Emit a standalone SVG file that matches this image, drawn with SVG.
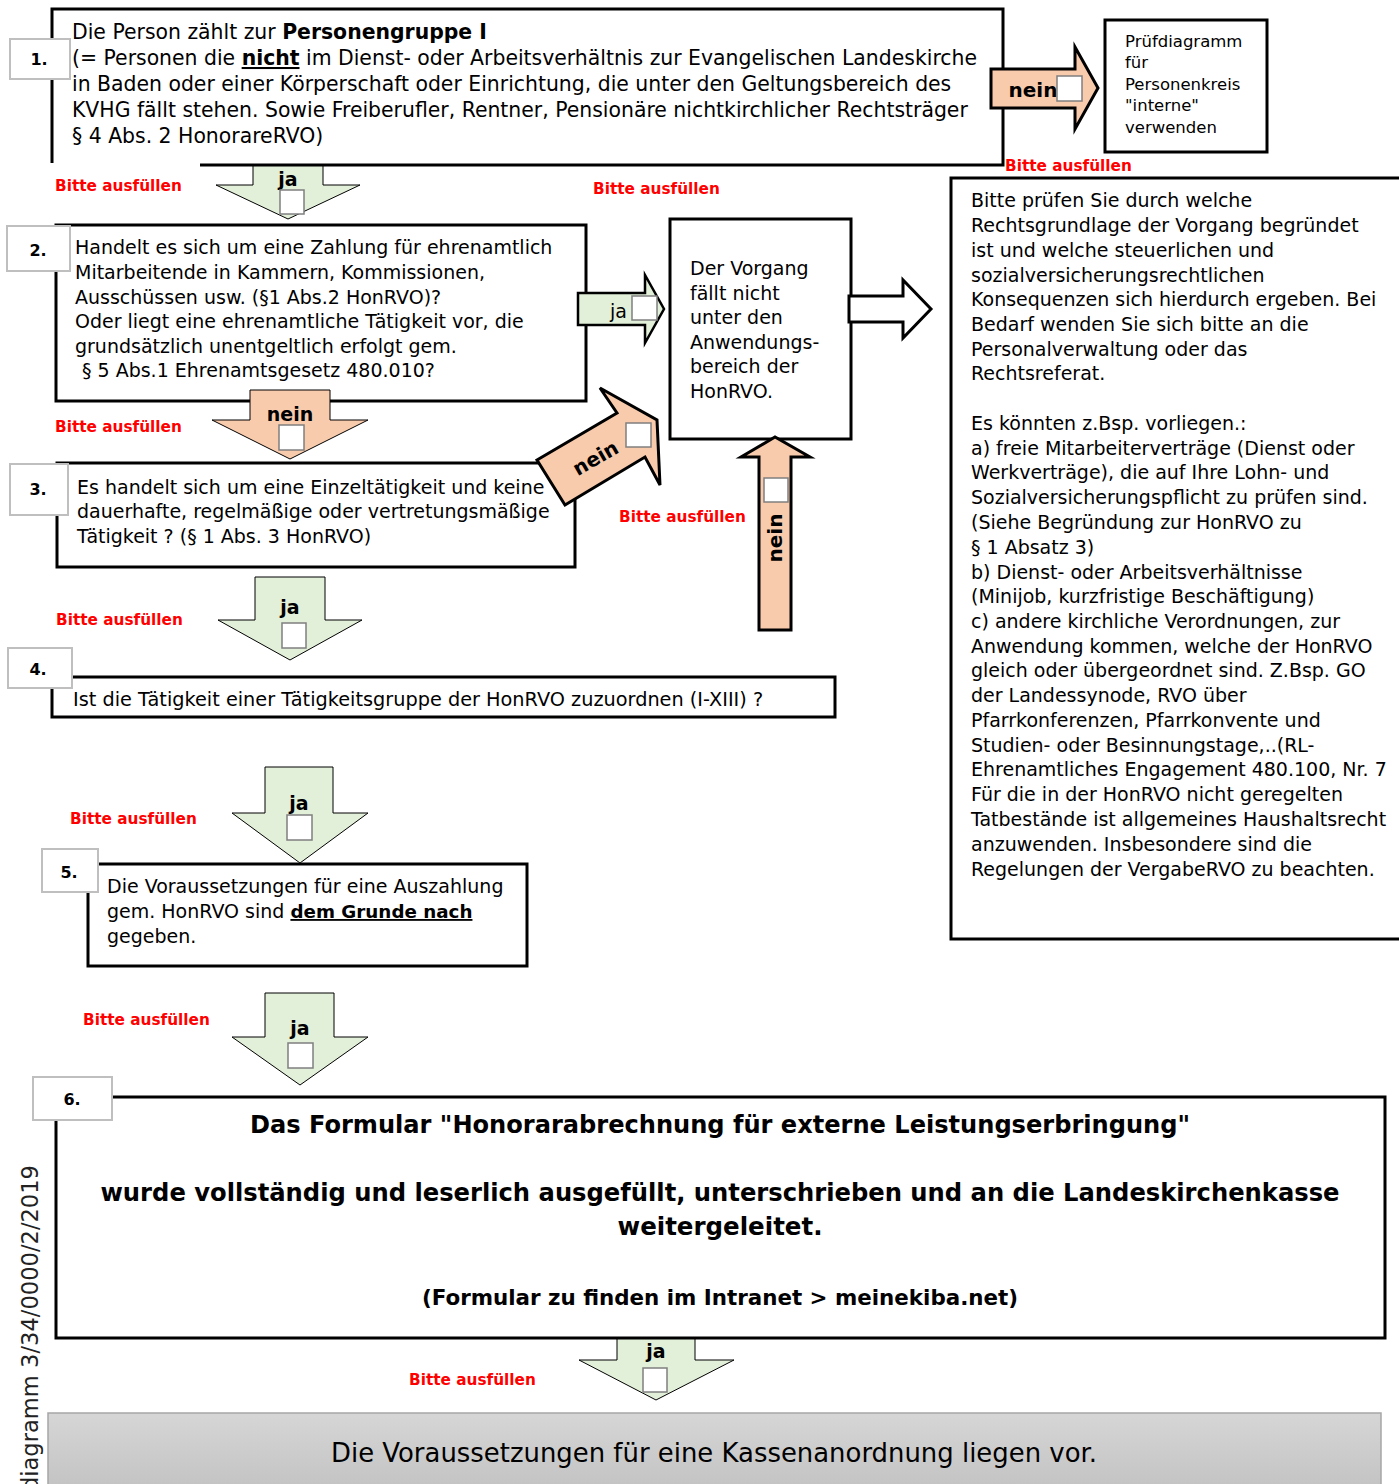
<svg xmlns="http://www.w3.org/2000/svg" width="1399" height="1484" viewBox="0 0 1399 1484">
<defs>
<linearGradient id="gray" x1="0" y1="0" x2="0" y2="1">
<stop offset="0" stop-color="#d6d6d6"/>
<stop offset="1" stop-color="#c2c2c2"/>
</linearGradient>
<style>
.t{font-family:"DejaVu Sans","Liberation Sans",sans-serif;font-size:19px;fill:#000}
.b{font-weight:bold}
.box{fill:#fff;stroke:#000;stroke-width:3}
.lbl{fill:#fff;stroke:#bfbfbf;stroke-width:2}
.ln{font-family:"DejaVu Sans","Liberation Sans",sans-serif;font-size:16px;font-weight:bold;text-anchor:middle}
.red{font-family:"DejaVu Sans","Liberation Sans",sans-serif;font-size:15.3px;font-weight:bold;fill:#ff0000}
.green{fill:#e2efd9;stroke:#000;stroke-width:1}
.peach{fill:#f8cbad;stroke:#000;stroke-width:3}
.peachthin{fill:#f8cbad;stroke:#000;stroke-width:1}
.cb{fill:#fff;stroke:#7f7f7f;stroke-width:1.5}
.al{font-family:"DejaVu Sans","Liberation Sans",sans-serif;font-size:19px;font-weight:bold;text-anchor:middle}
.big{font-family:"DejaVu Sans","Liberation Sans",sans-serif;font-size:24px;font-weight:bold;text-anchor:middle}
</style>
</defs>
<rect width="1399" height="1484" fill="#fff"/>

<!-- side text -->
<text class="t" style="font-size:22.6px;fill:#222" transform="translate(38,1165) rotate(-90)" text-anchor="end">Prüfdiagramm 3/34/0000/2/2019</text>

<g id="node1">
<path d="M52,163 V9 H1003 V165 H200" fill="#fff" stroke="#000" stroke-width="3"/>
<g class="t" style="font-size:20.4px">
<text x="72" y="39">Die Person zählt zur <tspan class="b">Personengruppe I</tspan></text>
<text x="72" y="65">(= Personen die <tspan class="b" text-decoration="underline">nicht</tspan> im Dienst- oder Arbeitsverhältnis zur Evangelischen Landeskirche</text>
<text x="72" y="91">in Baden oder einer Körperschaft oder Einrichtung, die unter den Geltungsbereich des</text>
<text x="72" y="117">KVHG fällt stehen. Sowie Freiberufler, Rentner, Pensionäre nichtkirchlicher Rechtsträger</text>
<text x="72" y="143">§ 4 Abs. 2 HonorareRVO)</text>
</g>
<rect class="lbl" x="10" y="39" width="60" height="40"/>
<text class="ln" x="39" y="65">1.</text>
</g>

<g id="node-interne">
<rect class="box" x="1105" y="20" width="162" height="132"/>
<g class="t" style="font-size:16.5px">
<text x="1125" y="47">Prüfdiagramm</text>
<text x="1125" y="68">für</text>
<text x="1125" y="90">Personenkreis</text>
<text x="1125" y="111">"interne"</text>
<text x="1125" y="133">verwenden</text>
</g>
</g>

<g id="node-hinweis">
<path d="M1399,178 H951 V939 H1399" fill="#fff" stroke="#000" stroke-width="3"/>
<g class="t" xml:space="preserve">
<text x="971" y="207">Bitte prüfen Sie durch welche</text>
<text x="971" y="232">Rechtsgrundlage der Vorgang  begründet</text>
<text x="971" y="257">ist und welche steuerlichen und</text>
<text x="971" y="282">sozialversicherungsrechtlichen</text>
<text x="971" y="306">Konsequenzen sich hierdurch ergeben. Bei</text>
<text x="971" y="331">Bedarf wenden Sie sich bitte an die</text>
<text x="971" y="356">Personalverwaltung oder das</text>
<text x="971" y="380">Rechtsreferat.</text>
<text x="971" y="430">Es könnten z.Bsp. vorliegen.:</text>
<text x="971" y="455">a) freie Mitarbeiterverträge (Dienst oder</text>
<text x="971" y="479">Werkverträge), die auf Ihre Lohn- und</text>
<text x="971" y="504">Sozialversicherungspflicht zu prüfen sind.</text>
<text x="971" y="529">(Siehe Begründung zur HonRVO zu</text>
<text x="971" y="554">§ 1 Absatz 3)</text>
<text x="971" y="579">b) Dienst- oder Arbeitsverhältnisse</text>
<text x="971" y="603">(Minijob, kurzfristige Beschäftigung)</text>
<text x="971" y="628">c) andere kirchliche Verordnungen, zur</text>
<text x="971" y="653">Anwendung kommen, welche der HonRVO</text>
<text x="971" y="677">gleich oder übergeordnet sind. Z.Bsp. GO</text>
<text x="971" y="702">der Landessynode, RVO über</text>
<text x="971" y="727">Pfarrkonferenzen, Pfarrkonvente und</text>
<text x="971" y="752">Studien- oder Besinnungstage,..(RL-</text>
<text x="971" y="776">Ehrenamtliches Engagement 480.100, Nr. 7</text>
<text x="971" y="801">Für die in der HonRVO nicht geregelten</text>
<text x="971" y="826">Tatbestände ist allgemeines Haushaltsrecht</text>
<text x="971" y="851">anzuwenden. Insbesondere sind die</text>
<text x="971" y="876">Regelungen der VergabeRVO zu beachten.</text>
</g>
</g>

<g id="node2">
<rect class="box" x="56" y="225" width="530" height="176"/>
<g class="t" xml:space="preserve">
<text x="75" y="254">Handelt es sich um eine Zahlung für ehrenamtlich</text>
<text x="75" y="279">Mitarbeitende in Kammern, Kommissionen,</text>
<text x="75" y="304">Ausschüssen usw.  (§1 Abs.2 HonRVO)?</text>
<text x="75" y="328">Oder liegt eine ehrenamtliche Tätigkeit vor, die</text>
<text x="75" y="353">grundsätzlich unentgeltlich erfolgt gem.</text>
<text x="82" y="377">§ 5 Abs.1 Ehrenamtsgesetz 480.010?</text>
</g>
<rect class="lbl" x="7" y="226" width="63" height="45"/>
<text class="ln" x="38" y="256">2.</text>
</g>

<g id="node-vorgang">
<rect class="box" x="670" y="219" width="181" height="220"/>
<text class="t" x="690" y="275">Der Vorgang</text>
<text class="t" x="690" y="300">fällt nicht</text>
<text class="t" x="690" y="324">unter den</text>
<text class="t" x="690" y="349">Anwendungs-</text>
<text class="t" x="690" y="373">bereich der</text>
<text class="t" x="690" y="398">HonRVO.</text>
</g>

<g id="node3">
<rect class="box" x="57" y="463" width="518" height="104"/>
<text class="t" x="77" y="494">Es handelt sich um eine Einzeltätigkeit und keine</text>
<text class="t" x="77" y="518">dauerhafte, regelmäßige oder vertretungsmäßige</text>
<text class="t" x="77" y="543">Tätigkeit ? (§ 1 Abs. 3 HonRVO)</text>
<rect class="lbl" x="10" y="464" width="58" height="51"/>
<text class="ln" x="38" y="495">3.</text>
</g>

<g id="node4">
<rect class="box" x="52" y="677" width="783" height="40"/>
<text class="t" x="73" y="706" style="font-size:19.3px">Ist die Tätigkeit einer Tätigkeitsgruppe der HonRVO zuzuordnen (I-XIII) ?</text>
<rect class="lbl" x="8" y="648" width="64" height="40"/>
<text class="ln" x="38" y="675">4.</text>
</g>

<g id="node5">
<rect class="box" x="88" y="864" width="439" height="102"/>
<text class="t" x="107" y="893">Die Voraussetzungen für eine Auszahlung</text>
<text class="t" x="107" y="918">gem. HonRVO sind <tspan class="b" text-decoration="underline" style="font-size:18.3px">dem Grunde nach</tspan></text>
<text class="t" x="107" y="943">gegeben.</text>
<rect class="lbl" x="42" y="849" width="56" height="43"/>
<text class="ln" x="69" y="878">5.</text>
</g>

<g id="node6">
<path d="M112,1097 H1385 V1338 H56 V1120" fill="#fff" stroke="#000" stroke-width="3"/>
<text class="big" x="720" y="1133" textLength="940" lengthAdjust="spacingAndGlyphs">Das Formular "Honorarabrechnung für externe Leistungserbringung"</text>
<text class="big" x="720" y="1201" textLength="1239" lengthAdjust="spacingAndGlyphs">wurde vollständig und leserlich ausgefüllt, unterschrieben und an die Landeskirchenkasse</text>
<text class="big" x="720" y="1235" textLength="205" lengthAdjust="spacingAndGlyphs">weitergeleitet.</text>
<text class="big" x="720" y="1305" style="font-size:22px" textLength="596" lengthAdjust="spacingAndGlyphs">(Formular zu finden im Intranet &gt; meinekiba.net)</text>
<rect class="lbl" x="33" y="1077" width="79" height="43"/>
<text class="ln" x="72" y="1105">6.</text>
</g>

<g id="node7">
<rect x="48" y="1413" width="1333" height="80" fill="url(#gray)" stroke="#a6a6a6" stroke-width="1.5"/>
<text class="t" x="714" y="1462" style="font-size:27px" text-anchor="middle" textLength="766" lengthAdjust="spacingAndGlyphs">Die Voraussetzungen für eine Kassenanordnung liegen vor.</text>
</g>

<g id="connectors">
<!-- 1 -> 2 ja -->
<polygon class="green" points="253,166 323,166 323,185 360,185 288,219 216,185 253,185"/>
<text class="al" x="288" y="186">ja</text>
<rect class="cb" x="280" y="190" width="24" height="24"/>
<!-- 1 -> interne nein -->
<polygon class="peach" points="991,69 1075,69 1075,47 1098,88 1075,129 1075,108 991,108"/>
<text class="al" x="1033" y="97" style="font-size:20px">nein</text>
<rect class="cb" x="1057" y="76" width="25" height="25"/>
<!-- 2 -> vorgang ja -->
<polygon class="green" points="578,293 645,293 645,275 664,309 645,343 645,325 578,325" style="stroke-width:2.5"/>
<text class="t" x="610" y="318">ja</text>
<rect class="cb" x="632" y="296" width="25" height="24"/>
<!-- vorgang -> hinweis -->
<polygon points="849,296 903,296 903,280 931,309 903,338 903,322 849,322" fill="#fff" stroke="#000" stroke-width="3"/>
<!-- 2 -> 3 nein -->
<polygon class="peachthin" points="250,390 330,390 330,420 368,420 290,459 212,420 250,420"/>
<text class="al" x="290" y="421">nein</text>
<rect class="cb" x="279" y="425" width="25" height="25"/>
<!-- 3 -> vorgang nein (diagonal) -->
<polygon class="peach" points="537,460 617,413 600,388 657,420 660,485 645,457 565,505"/>
<text class="al" x="0" y="0" style="font-size:20px" transform="translate(599,464) rotate(-30)">nein</text>
<rect class="cb" x="626" y="423" width="25" height="24"/>
<!-- 4 -> vorgang nein (up) -->
<polygon class="peach" points="759,630 759,457 741,457 775,437 810,457 791,457 791,630"/>
<rect class="cb" x="764" y="478" width="24" height="24"/>
<text class="al" x="0" y="0" style="font-size:20px" transform="translate(782,538) rotate(-90)">nein</text>
<!-- 3 -> 4 ja -->
<polygon class="green" points="255,577 325,577 325,620 362,620 290,660 218,620 255,620"/>
<text class="al" x="290" y="614">ja</text>
<rect class="cb" x="282" y="623" width="24" height="25"/>
<!-- 4 -> 5 ja -->
<polygon class="green" points="265,767 333,767 333,813 368,813 300,863 232,813 265,813"/>
<text class="al" x="299" y="810">ja</text>
<rect class="cb" x="287" y="815" width="25" height="25"/>
<!-- 5 -> 6 ja -->
<polygon class="green" points="265,993 334,993 334,1037 368,1037 300,1085 232,1037 265,1037"/>
<text class="al" x="300" y="1035">ja</text>
<rect class="cb" x="288" y="1043" width="25" height="25"/>
<!-- 6 -> 7 ja -->
<polygon class="green" points="617,1339 695,1339 695,1360 734,1360 656,1400 579,1360 617,1360"/>
<text class="al" x="656" y="1358">ja</text>
<rect class="cb" x="643" y="1368" width="24" height="24"/>
</g>

<g id="hints">
<text class="red" x="1005" y="171">Bitte ausfüllen</text>
<text class="red" x="55" y="191">Bitte ausfüllen</text>
<text class="red" x="593" y="194">Bitte ausfüllen</text>
<text class="red" x="55" y="432">Bitte ausfüllen</text>
<text class="red" x="619" y="522">Bitte ausfüllen</text>
<text class="red" x="56" y="625">Bitte ausfüllen</text>
<text class="red" x="70" y="824">Bitte ausfüllen</text>
<text class="red" x="83" y="1025">Bitte ausfüllen</text>
<text class="red" x="409" y="1385">Bitte ausfüllen</text>
</g>
</svg>
